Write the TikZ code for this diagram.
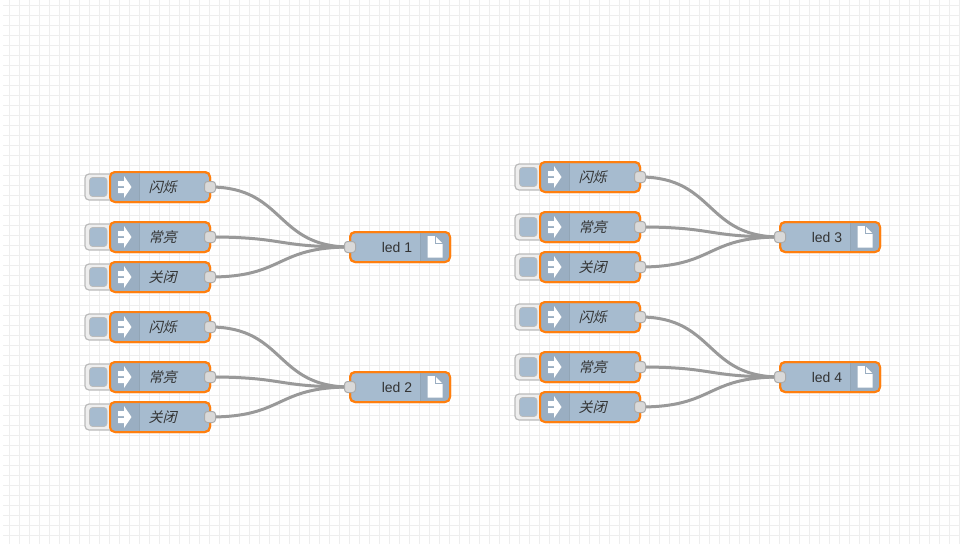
\documentclass[tikz,border=0pt]{standalone}
\usepackage{fontspec}
\usetikzlibrary{calc}
\setmainfont{Liberation Sans}
\newfontfamily\cjkit[FakeSlant=0.25]{Noto Sans CJK SC}
\definecolor{nodeblue}{HTML}{A6BBCF}
\definecolor{icondark}{HTML}{9AAEC2}
\definecolor{selorange}{HTML}{FF7F0E}
\definecolor{wirecol}{HTML}{999999}
\definecolor{gridcol}{HTML}{EEEEEE}
\definecolor{portfill}{HTML}{D9D9D9}
\definecolor{portedge}{HTML}{ABABAB}
\definecolor{btnfill}{HTML}{EEEEEE}
\definecolor{btnedge}{HTML}{BBBBBB}
\definecolor{txtcol}{HTML}{333333}
\tikzset{
  x=1pt,y=-1pt,
  gridline/.style={gridcol,line width=1pt},
  wire/.style={wirecol,line width=3pt},
  nodebody/.style={draw=selorange,line width=2pt,fill=nodeblue,rounded corners=5pt,minimum width=100pt,minimum height=30pt,inner sep=0pt,outer sep=0pt},
  btnbody/.style={draw=btnedge,line width=1.2pt,fill=btnfill,rounded corners=4pt},
  btninner/.style={fill=nodeblue,draw=btnedge,line width=.6pt,rounded corners=3pt},
  portbox/.style={draw=portedge,line width=1pt,fill=portfill,rounded corners=3pt,minimum width=11pt,minimum height=11pt,inner sep=0pt,outer sep=0pt},
  labeltext/.style={text=txtcol,inner sep=0pt,font=\fontsize{14pt}{14pt}\selectfont},
  seplinecol/.style={line width=.8pt,draw=black!12!nodeblue},
  iconwhite/.style={fill=white,draw=none},
}
% inject node: name, left x, centre y, label
\newcommand{\injectnode}[4]{%
  \draw[btnbody] (#2-25,#3-13) rectangle (#2-25+30,#3+13);
  \fill[btninner] (#2-20.5,#3-9.5) rectangle (#2-3,#3+9.5);
  \node[nodebody] (#1) at (#2+50,#3) {};
  \begin{scope}
    \clip[rounded corners=5pt] (#2,#3-15) rectangle (#2+60,#3+15);
    \fill[icondark] (#2,#3-15) rectangle (#2+29.5,#3+15);
  \end{scope}
  \draw[selorange,line width=2pt,rounded corners=5pt] (#2,#3-15) -- (#2+100,#3-15) -- (#2+100,#3+15) -- (#2,#3+15) -- cycle;
  \draw[seplinecol] (#2+29.5,#3-14) -- (#2+29.5,#3+14);
  \fill[iconwhite] (#2+8,#3-6) -- (#2+14,#3-6) -- (#2+14,#3-11) -- (#2+21.5,#3) -- (#2+14,#3+11) -- (#2+14,#3+6) -- (#2+8,#3+6) -- (#2+8,#3+1) -- (#2+14,#3+1) -- (#2+14,#3-1) -- (#2+8,#3-1) -- cycle;
  \node[labeltext] (#1t) at (#2+52.5,#3) {\cjkit #4};
  \node[portbox] (#1p) at (#2+100,#3) {};
}
% output node: name, left x, centre y, label
\newcommand{\lednode}[4]{%
  \node[nodebody] (#1) at (#2+50,#3) {};
  \begin{scope}
    \clip[rounded corners=5pt] (#2+40,#3-15) rectangle (#2+100,#3+15);
    \fill[icondark] (#2+70.5,#3-15) rectangle (#2+100,#3+15);
  \end{scope}
  \draw[selorange,line width=2pt,rounded corners=5pt] (#2,#3-15) -- (#2+100,#3-15) -- (#2+100,#3+15) -- (#2,#3+15) -- cycle;
  \draw[seplinecol] (#2+70.5,#3-14) -- (#2+70.5,#3+14);
  \fill[iconwhite] (#2+77.5,#3-11) -- (#2+85,#3-11) -- (#2+92.5,#3-3.5) -- (#2+92.5,#3+10.5) -- (#2+77.5,#3+10.5) -- cycle;
  \draw[icondark,line width=.7pt] (#2+85,#3-11) -- (#2+85,#3-3.5) -- (#2+92.5,#3-3.5);
  \node[labeltext] (#1t) at (#2+47,#3) {#4};
  \node[portbox] (#1p) at (#2,#3) {};
}
\begin{document}
\begin{tikzpicture}
\useasboundingbox (0,0) rectangle (960,544);
\fill[white] (0,0) rectangle (960,544);
\foreach \gx in {9.5,19.5,...,959.5} \draw[gridline] (\gx,0) -- (\gx,544);
\foreach \gy in {5.5,15.5,...,544} \draw[gridline] (3,\gy) -- (960,\gy);
\foreach \nm/\nx/\ny in {a1/210/187,a2/210/237,a3/210/277,b1/210/327,b2/210/377,b3/210/417,c1/640/177,c2/640/227,c3/640/267,d1/640/317,d2/640/367,d3/640/407,la/350/247,lb/350/387,lc/780/237,ld/780/377}
  \coordinate (\nm w) at (\nx,\ny);
\foreach \s/\t in {a1/la,a2/la,a3/la,b1/lb,b2/lb,b3/lb,c1/lc,c2/lc,c3/lc,d1/ld,d2/ld,d3/ld}
  \draw[wire] (\s w) .. controls ($(\s w)+(75,0)$) and ($(\t w)+(-75,0)$) .. (\t w);
\injectnode{a1}{110}{187}{闪烁}
\injectnode{a2}{110}{237}{常亮}
\injectnode{a3}{110}{277}{关闭}
\injectnode{b1}{110}{327}{闪烁}
\injectnode{b2}{110}{377}{常亮}
\injectnode{b3}{110}{417}{关闭}
\injectnode{c1}{540}{177}{闪烁}
\injectnode{c2}{540}{227}{常亮}
\injectnode{c3}{540}{267}{关闭}
\injectnode{d1}{540}{317}{闪烁}
\injectnode{d2}{540}{367}{常亮}
\injectnode{d3}{540}{407}{关闭}
\lednode{la}{350}{247}{led 1}
\lednode{lb}{350}{387}{led 2}
\lednode{lc}{780}{237}{led 3}
\lednode{ld}{780}{377}{led 4}
\end{tikzpicture}
\end{document}
